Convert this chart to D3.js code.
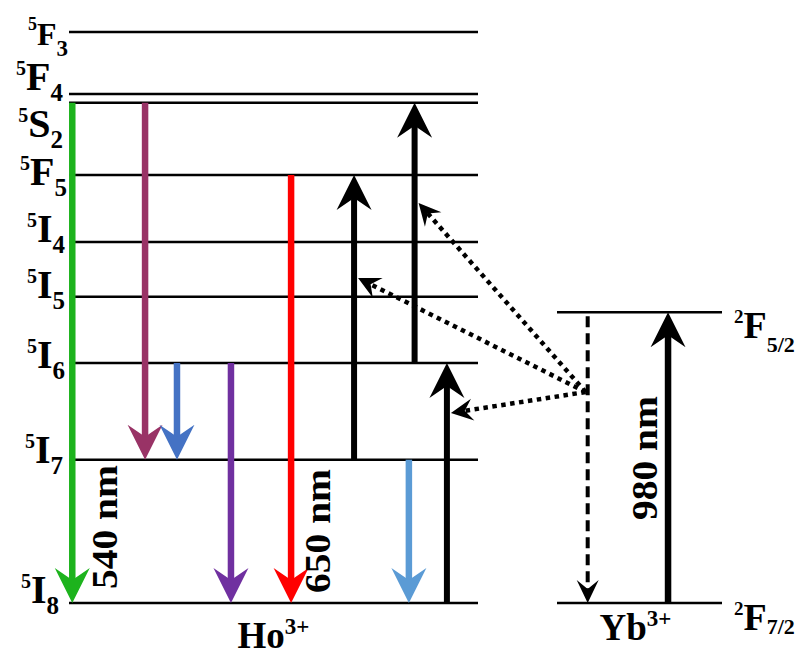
<!DOCTYPE html>
<html>
<head>
<meta charset="utf-8">
<script src="https://cdn.jsdelivr.net/npm/d3@7"></script>
<style>
  body { margin: 0; background: #fff; }
  svg { display: block; }
</style>
</head>
<body>
<div id="chart"></div>
<script>
// Energy levels (cm^-1, as drawn)
const hoLevels = ['5F3', '5F4', '5S2', '5F5', '5I4', '5I5', '5I6', '5I7', '5I8'];
const hoEnergy = [20600, 18360, 18050, 15440, 13020, 11050, 8660, 5170, 0];
const ybLevels = ['2F5/2', '2F7/2'];
const ybEnergy = [10490, 0];

// Radiative transitions of Ho3+ (downward)
const emitFrom = ['5S2', '5S2', '5I6', '5I6', '5F5', '5I7'];
const emitTo = ['5I8', '5I7', '5I7', '5I8', '5I8', '5I8'];
const emitColors = ['#1db31d', '#993366', '#4472c4', '#7030a0', '#ff0000', '#5b9bd5'];

// Excitation steps of Ho3+ (upward, black)
const absFrom = ['5I7', '5I6', '5I8'];
const absTo = ['5F5', '5S2', '5I6'];

// Energy transfer Yb -> Ho (dotted): source energy on Yb, target energies on the Ho arrows
const etSource = 7612;
const etTarget = [6855, 11725, 14431];
const etArrow = [2, 0, 1]; // which upward arrow each transfer hits

const lineLabels = ['540 nm', '650 nm', '980 nm'];

// ---- layout ----
const width = 811, height = 657;
const FONT = 'Liberation Serif';

const svg = d3.select('#chart').append('svg')
  .attr('width', width)
  .attr('height', height);

const yScale = d3.scaleLinear().domain([0, 20600]).range([603, 32]);
const xHo = d3.scaleLinear().domain([0, 100]).range([69, 478]);
const xYb = d3.scaleLinear().domain([0, 100]).range([557, 722]);

const hoE = name => hoEnergy[hoLevels.indexOf(name)];

// column of each arrow in the Ho panel (percent of panel width)
const emitCol = [0.8, 18.6, 26.4, 39.6, 54.3, 83.1];
const absCol = [69.7, 84.5, 92.4];

// label placement (right end x, baseline offset from level, px)
const hoLabelX = [68, 63, 63, 67, 65, 65, 65, 63, 59];
const hoLabelDy = [13, -4, 34, 10, 0, 1, 5, 3, 0];
const hoLabelSize = [32, 40, 40, 40, 40, 40, 40, 40, 40];
const ybLabelDy = [26, 27];
const ybSubDy = [14, 4];

function addText(g, x, y) {
  return g.append('text')
    .attr('x', x).attr('y', y)
    .attr('font-family', FONT)
    .attr('font-weight', 'bold')
    .attr('fill', '#000');
}

// arrow helper: notched arrowhead pointing at (x2, y2)
function arrow(g, x1, y1, x2, y2, o) {
  const dx = x2 - x1, dy = y2 - y1;
  const len = Math.hypot(dx, dy);
  const ux = dx / len, uy = dy / len;
  const back = o.notch - 1;
  g.append('line')
    .attr('x1', x1).attr('y1', y1)
    .attr('x2', x2 - ux * back).attr('y2', y2 - uy * back)
    .attr('stroke', o.color)
    .attr('stroke-width', o.width)
    .attr('stroke-dasharray', o.dash || null);
  const ang = Math.atan2(dy, dx) * 180 / Math.PI;
  g.append('path')
    .attr('d', `M0,0 L${-o.len},${-o.half} L${-o.notch},0 L${-o.len},${o.half} Z`)
    .attr('fill', o.color)
    .attr('transform', `translate(${x2},${y2}) rotate(${ang})`);
}

const bigHead = {len: 35, half: 17.5, notch: 23};

// level lines
const levels = svg.append('g').attr('class', 'levels');
levels.selectAll('.ho-level').data(hoEnergy)
  .enter().append('line')
  .attr('class', 'ho-level')
  .attr('x1', xHo(0)).attr('x2', xHo(100))
  .attr('y1', d => yScale(d)).attr('y2', d => yScale(d))
  .attr('stroke', '#000').attr('stroke-width', 2.5);

levels.selectAll('.yb-level').data(ybEnergy)
  .enter().append('line')
  .attr('class', 'yb-level')
  .attr('x1', xYb(0)).attr('x2', xYb(100))
  .attr('y1', d => yScale(d)).attr('y2', d => yScale(d))
  .attr('stroke', '#000').attr('stroke-width', 2.5);

// level labels: superscript multiplicity, term letter, subscript J
function levelLabel(g, name, x, y, anchor, sizes, subDy) {
  const t = addText(g, x, y).attr('text-anchor', anchor);
  t.append('tspan').attr('font-size', sizes[0]).attr('dy', -15).text(name[0]);
  t.append('tspan').attr('font-size', sizes[1]).attr('dy', 15).text(name[1]);
  t.append('tspan').attr('font-size', sizes[2]).attr('dy', subDy).text(name.slice(2));
}

const labels = svg.append('g').attr('class', 'labels');
hoLevels.forEach((name, i) => {
  const main = hoLabelSize[i];
  levelLabel(labels, name, hoLabelX[i], yScale(hoEnergy[i]) + hoLabelDy[i], 'end',
    [main === 40 ? 20 : 18, main, main === 40 ? 25 : 23], 11);
});
ybLevels.forEach((name, i) => {
  levelLabel(labels, name, 734, yScale(ybEnergy[i]) + ybLabelDy[i], 'start',
    [19, 38, 22], ybSubDy[i]);
});

// ion names
const ho = addText(labels, xHo(50), 648).attr('text-anchor', 'middle');
ho.append('tspan').attr('font-size', 37).text('Ho');
ho.append('tspan').attr('font-size', 23).attr('dy', -14).text('3+');

const yb = addText(labels, xYb(47.5), 640).attr('text-anchor', 'middle');
yb.append('tspan').attr('font-size', 37).text('Yb');
yb.append('tspan').attr('font-size', 23).attr('dy', -14).text('3+');

// emission arrows
const arrows = svg.append('g').attr('class', 'arrows');
emitFrom.forEach((from, i) => {
  const x = xHo(emitCol[i]);
  arrow(arrows, x, yScale(hoE(from)), x, yScale(hoE(emitTo[i])),
    Object.assign({color: emitColors[i], width: 6.5}, bigHead));
});

// upward excitation arrows
absFrom.forEach((from, i) => {
  const x = xHo(absCol[i]);
  arrow(arrows, x, yScale(hoE(from)), x, yScale(hoE(absTo[i])),
    Object.assign({color: '#000', width: 6}, bigHead));
});

// Yb absorption and relaxation
arrow(arrows, xYb(67.3), yScale(ybEnergy[1]), xYb(67.3), yScale(ybEnergy[0]),
  Object.assign({color: '#000', width: 6.5}, bigHead));
arrow(arrows, xYb(18.6), yScale(ybEnergy[0]) + 4, xYb(18.6), yScale(ybEnergy[1]),
  {color: '#000', width: 4, dash: '11,6', len: 23, half: 11, notch: 14});

// energy transfer dotted arrows
etTarget.forEach((e, i) => {
  const x2 = xHo(absCol[etArrow[i]]) + 4;
  arrow(arrows, xYb(18.6) - 2, yScale(etSource), x2, yScale(e),
    {color: '#000', width: 4.5, dash: '4.5,4.5', len: 22, half: 11, notch: 14});
});

// wavelength labels
const wl = svg.append('g').attr('class', 'wavelengths');
const wlX = [xHo(11.7), xHo(63.8), xYb(60.6)];
const wlY = [yScale(2742), yScale(2598), yScale(5231)];
lineLabels.forEach((txt, i) => {
  addText(wl, wlX[i], wlY[i])
    .attr('transform', `rotate(-90, ${wlX[i]}, ${wlY[i]})`)
    .attr('text-anchor', 'middle')
    .attr('font-size', 36)
    .attr('textLength', 124)
    .attr('lengthAdjust', 'spacingAndGlyphs')
    .text(txt);
});
</script>
</body>
</html>
